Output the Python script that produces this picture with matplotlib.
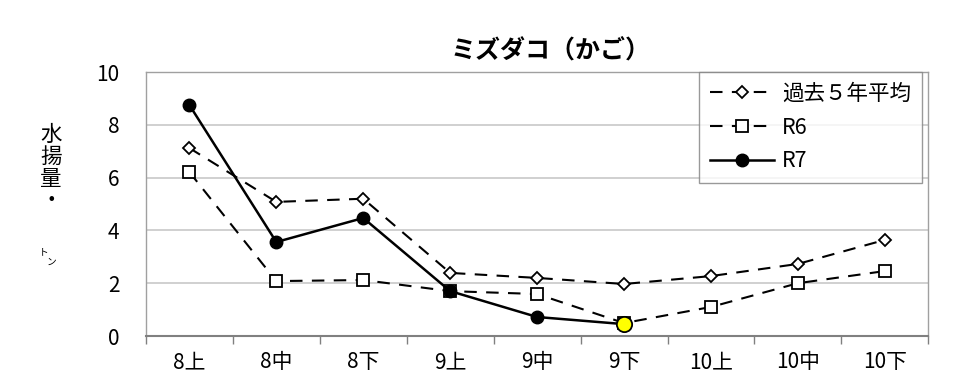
import matplotlib
matplotlib.use("Agg")
import matplotlib.pyplot as plt
import numpy as np

plt.rcParams["font.family"] = ["Noto Sans CJK JP", "DejaVu Sans"]

categories = ["8上", "8中", "8下", "9上", "9中", "9下", "10上", "10中", "10下"]
avg5 = [7.12, 5.08, 5.20, 2.39, 2.20, 1.97, 2.27, 2.73, 3.64]
r6 = [6.21, 2.08, 2.12, 1.70, 1.59, 0.49, 1.10, 2.00, 2.46]
r7 = [8.75, 3.56, 4.47, 1.70, 0.72, 0.45]

x = np.arange(len(categories))

fig = plt.figure(figsize=(9.6, 3.82), dpi=100)
ax = fig.add_axes([0.152, 0.1204, 0.815, 0.6911])

dash = (0, (6, 4.5))
ax.plot(x, avg5, color="black", linestyle=dash, linewidth=1.5,
        marker="D", markersize=6, markerfacecolor="white", markeredgecolor="black",
        markeredgewidth=1.3, label="過去５年平均")
ax.plot(x, r6, color="black", linestyle=dash, linewidth=1.5,
        marker="s", markersize=8, markerfacecolor="white", markeredgecolor="black",
        markeredgewidth=1.3, label="R6")
ax.plot(x[:len(r7)], r7, color="black", linestyle="-", linewidth=1.8,
        marker="o", markersize=9, markerfacecolor="black", markeredgecolor="black",
        label="R7")
# latest value highlighted
ax.plot(x[len(r7) - 1], r7[-1], linestyle="none", marker="o", markersize=11,
        markerfacecolor="#ffff00", markeredgecolor="black", markeredgewidth=1.3,
        zorder=5)

ax.set_xlim(-0.5, len(categories) - 0.5)
ax.set_ylim(0, 10)
ax.set_yticks([0, 2, 4, 6, 8, 10])
ax.yaxis.grid(True, color="#c8c8c8", linewidth=1.2)
ax.set_axisbelow(True)

# ticks at category boundaries, labels centred
ax.set_xticks(np.arange(-0.5, len(categories) + 0.5, 1.0))
ax.set_xticklabels([])
ax.set_xticks(x, minor=True)
ax.set_xticklabels(categories, minor=True, fontsize=15)
ax.tick_params(axis="x", which="major", length=6, color="#808080", width=1)
ax.tick_params(axis="x", which="minor", length=0, pad=11)
ax.tick_params(axis="y", length=0, labelsize=15, pad=19)

for side in ["left", "top", "right"]:
    ax.spines[side].set_color("#a0a0a0")
    ax.spines[side].set_linewidth(1)
ax.spines["bottom"].set_color("#808080")
ax.spines["bottom"].set_linewidth(1.5)

fig.text(0.573, 0.865, "ミズダコ（かご）", fontsize=18, fontweight="bold",
         ha="center", va="center")

leg = ax.legend(loc="upper right", bbox_to_anchor=(0.9915, 1.0), borderaxespad=0,
                frameon=True, fancybox=False, edgecolor="#808080",
                handlelength=3.0, handletextpad=0.35, labelspacing=0.55,
                borderpad=0.5, prop={"size": 15.5})
leg.get_frame().set_linewidth(1)

# vertical y-axis label
fig.text(0.053, 0.56, "水\n揚\n量\n・", fontsize=15.5, ha="center", va="center",
         linespacing=1.0)
fig.text(0.046, 0.34, "ト", fontsize=7, ha="center", va="center")
fig.text(0.054, 0.315, "ン", fontsize=7, ha="center", va="center")

fig.savefig("out.png", dpi=100)
